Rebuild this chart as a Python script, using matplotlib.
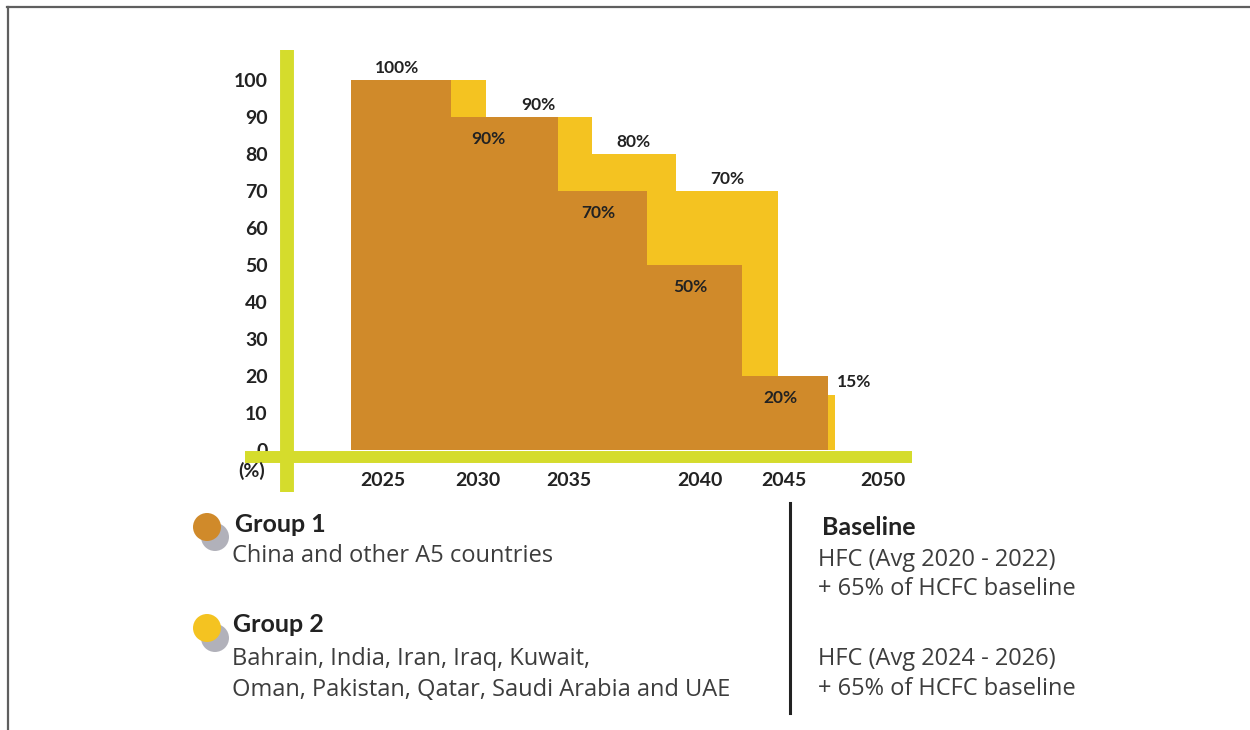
import matplotlib.pyplot as plt
from matplotlib.patches import Circle
from matplotlib.lines import Line2D

plt.rcParams['font.family'] = ['Lato', 'DejaVu Sans']

# step edges (years as drawn in the picture) and phase-down levels in %
g1_edges = [2023.3, 2028.6, 2034.2, 2038.9, 2043.9, 2048.4]
g1_levels = [100, 90, 70, 50, 20]
g2_edges = [2023.3, 2030.4, 2036.0, 2040.4, 2045.8, 2048.8]
g2_levels = [100, 90, 80, 70, 15]

year_ticks = [2025, 2030, 2034.8, 2041.7, 2046.1, 2051.3]
year_labels = ['2025', '2030', '2035', '2040', '2045', '2050']
pct_ticks = [0, 10, 20, 30, 40, 50, 60, 70, 80, 90, 100]

g1_name = 'Group 1'
g1_desc = ['China and other A5 countries']
g1_base = ['HFC (Avg 2020 - 2022)', '+ 65% of HCFC baseline']
g2_name = 'Group 2'
g2_desc = ['Bahrain, India, Iran, Iraq, Kuwait,',
           'Oman, Pakistan, Qatar, Saudi Arabia and UAE']
g2_base = ['HFC (Avg 2024 - 2026)', '+ 65% of HCFC baseline']

ORANGE = '#d08a2a'
YELLOW = '#f4c321'
GREEN = '#d5dc2c'
SHADOW = '#a4a4ae'
INK = '#222222'
BODY = '#3d3d3d'
BODY_FONT = ['Open Sans', 'DejaVu Sans']

W, H = 1250, 730
fig = plt.figure(figsize=(W / 100, H / 100), dpi=100)


def fx(x):
    return x / W


def fy(y):
    return 1 - y / H


ax = fig.add_axes([fx(245), fy(492), (912 - 245) / W, (492 - 50) / H])
ax.set_xlim(2017.74, 2052.84)
ax.set_ylim(-11.35, 108.11)

ax.stairs(g2_levels, g2_edges, fill=True, color=YELLOW, zorder=1)
ax.stairs(g1_levels, g1_edges, fill=True, color=ORANGE, zorder=2)

# thick lime axes
for side in ['top', 'right']:
    ax.spines[side].set_visible(False)
ax.spines['left'].set_position(('data', 2019.95))
ax.spines['left'].set_linewidth(10)
ax.spines['left'].set_color(GREEN)
ax.spines['left'].set_capstyle('butt')
ax.spines['bottom'].set_position(('data', -1.89))
ax.spines['bottom'].set_linewidth(8.6)
ax.spines['bottom'].set_color(GREEN)
ax.spines['bottom'].set_capstyle('butt')

ax.set_xticks(year_ticks)
ax.set_xticklabels(year_labels)
ax.set_yticks(pct_ticks)
ax.set_yticklabels([str(v) for v in pct_ticks])
ax.tick_params(axis='both', length=0, labelsize=14, labelcolor=INK)
ax.tick_params(axis='y', pad=14)
ax.tick_params(axis='x', pad=11)
for lab in ax.get_xticklabels() + ax.get_yticklabels():
    lab.set_fontweight('bold')
ax.text(2018.1, -5.7, '(%)', ha='center', va='center', fontsize=14,
        fontweight='bold', color=INK)

# percentage labels
lab_kw = dict(textcoords='offset points', fontsize=12.5, fontweight='bold',
              color=INK, va='center', zorder=5)
for i, v in enumerate(g1_levels):
    mid = (g1_edges[i] + g1_edges[i + 1]) / 2
    dy = 9 if i == 0 else -16
    dx = -12 if i == 1 else -3
    ax.annotate(f'{v}%', (mid, v), xytext=(dx, dy), ha='center', **lab_kw)
for i, v in enumerate(g2_levels):
    if i == 0:
        continue
    if i == len(g2_levels) - 1:
        ax.annotate(f'{v}%', (g2_edges[-1], v), xytext=(1, 9), ha='left', **lab_kw)
    else:
        mid = (g2_edges[i] + g2_edges[i + 1]) / 2
        ax.annotate(f'{v}%', (mid, v), xytext=(0, 9), ha='center', **lab_kw)

# legend area
def dot(x, y, color):
    tr = fig.dpi_scale_trans
    fig.add_artist(Circle(((x + 8) / 100, (H - y - 10) / 100), 0.14,
                          transform=tr, color=SHADOW, alpha=0.85, lw=0))
    fig.add_artist(Circle((x / 100, (H - y) / 100), 0.14,
                          transform=tr, color=color, lw=0))


dot(207, 527, ORANGE)
dot(207, 628, YELLOW)

fig.text(fx(235), fy(532), g1_name, fontsize=18, fontweight='bold', color=INK)
for k, line in enumerate(g1_desc):
    fig.text(fx(232), fy(562 + 31 * k), line, fontsize=17, color=BODY,
             family=BODY_FONT)
fig.text(fx(233), fy(632), g2_name, fontsize=18, fontweight='bold', color=INK)
for k, line in enumerate(g2_desc):
    fig.text(fx(232), fy(665 + 31 * k), line, fontsize=17, color=BODY,
             family=BODY_FONT)

fig.add_artist(Line2D([fx(790), fx(790)], [fy(503), fy(713)],
                      transform=fig.transFigure, color=INK, lw=2.2))
fig.text(fx(822), fy(535), 'Baseline', fontsize=18, fontweight='bold', color=INK)
for k, line in enumerate(g1_base):
    fig.text(fx(818), fy(566 + 29 * k), line, fontsize=17, color=BODY,
             family=BODY_FONT)
for k, line in enumerate(g2_base):
    fig.text(fx(818), fy(665 + 30 * k), line, fontsize=17, color=BODY,
             family=BODY_FONT)

# frame edges visible in the crop
fig.add_artist(Line2D([fx(7), 1], [fy(6.5), fy(6.5)], transform=fig.transFigure,
                      color='#5f5f5f', lw=1.6))
fig.add_artist(Line2D([fx(7.5), fx(7.5)], [0, fy(6.5)], transform=fig.transFigure,
                      color='#5f5f5f', lw=1.6))

fig.savefig('out.png', dpi=100)
